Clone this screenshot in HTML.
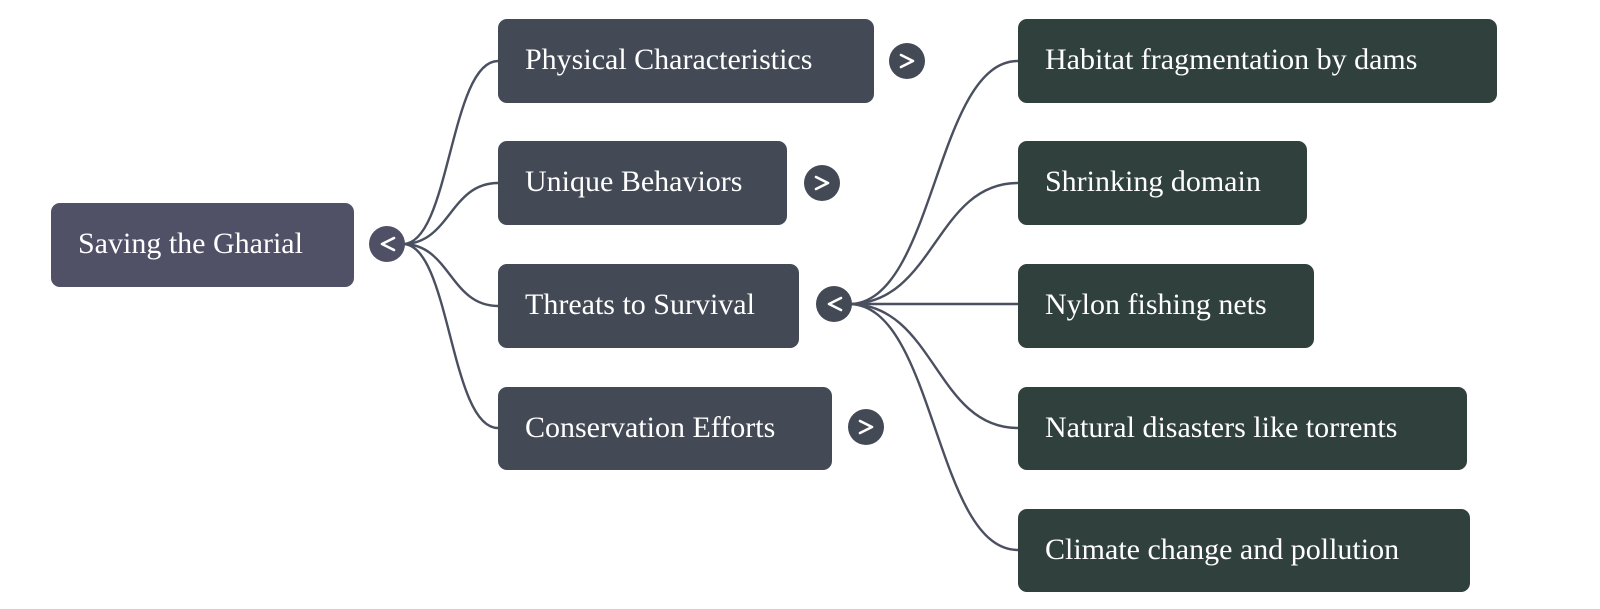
<!DOCTYPE html>
<html><head><meta charset="utf-8"><style>
html,body{margin:0;padding:0;background:#fff;}
body{width:1600px;height:609px;position:relative;overflow:hidden;font-family:"Liberation Serif",serif;}
.b{position:absolute;box-sizing:border-box;border-radius:9px;color:#fff;font-size:30px;line-height:1;display:flex;align-items:center;padding-left:27px;padding-bottom:2px;}
.r{background:#505167;}
.l1{background:#434a55;}
.l2{background:#30403c;}
svg{position:absolute;left:0;top:0;}
</style></head><body>
<svg width="1600" height="609">
<g fill="none" stroke="#4a5060" stroke-width="2.4">
<path d="M403 244 C450 244 450 61 498 61"/>
<path d="M403 244 C450 244 450 183 498 183"/>
<path d="M403 244 C450 244 450 306 498 306"/>
<path d="M403 244 C450 244 450 428 498 428"/>
<path d="M849 304 C935 304 935 61 1018 61"/>
<path d="M849 304 C935 304 935 183 1018 183"/>
<path d="M849 304 L1018 304"/>
<path d="M849 304 C935 304 935 428 1018 428"/>
<path d="M849 304 C935 304 935 550 1018 550"/>
</g>
<g fill="#434a55" >
<circle cx="387" cy="244" r="18" fill="#4f5066"/>
<circle cx="907" cy="61" r="18"/>
<circle cx="822" cy="183" r="18"/>
<circle cx="834" cy="304" r="18"/>
<circle cx="866" cy="427" r="18"/>
</g>
<g fill="none" stroke="#fff" stroke-width="2.6" stroke-linecap="round" stroke-linejoin="round">
<path d="M394 238 L382 244 L394 250"/>
<path d="M901 55 L913 61 L901 67"/>
<path d="M816 177 L828 183 L816 189"/>
<path d="M841 298 L829 304 L841 310"/>
<path d="M860 421 L872 427 L860 433"/>
</g>
</svg>
<div class="b r" style="left:51px;top:203px;width:303px;height:84px;">Saving the Gharial</div>
<div class="b l1" style="left:498px;top:19px;width:376px;height:84px;">Physical Characteristics</div>
<div class="b l1" style="left:498px;top:141px;width:289px;height:84px;">Unique Behaviors</div>
<div class="b l1" style="left:498px;top:264px;width:301px;height:84px;">Threats to Survival</div>
<div class="b l1" style="left:498px;top:387px;width:334px;height:83px;">Conservation Efforts</div>
<div class="b l2" style="left:1018px;top:19px;width:479px;height:84px;">Habitat fragmentation by dams</div>
<div class="b l2" style="left:1018px;top:141px;width:289px;height:84px;">Shrinking domain</div>
<div class="b l2" style="left:1018px;top:264px;width:296px;height:84px;">Nylon fishing nets</div>
<div class="b l2" style="left:1018px;top:387px;width:449px;height:83px;">Natural disasters like torrents</div>
<div class="b l2" style="left:1018px;top:509px;width:452px;height:83px;">Climate change and pollution</div>
</body></html>
